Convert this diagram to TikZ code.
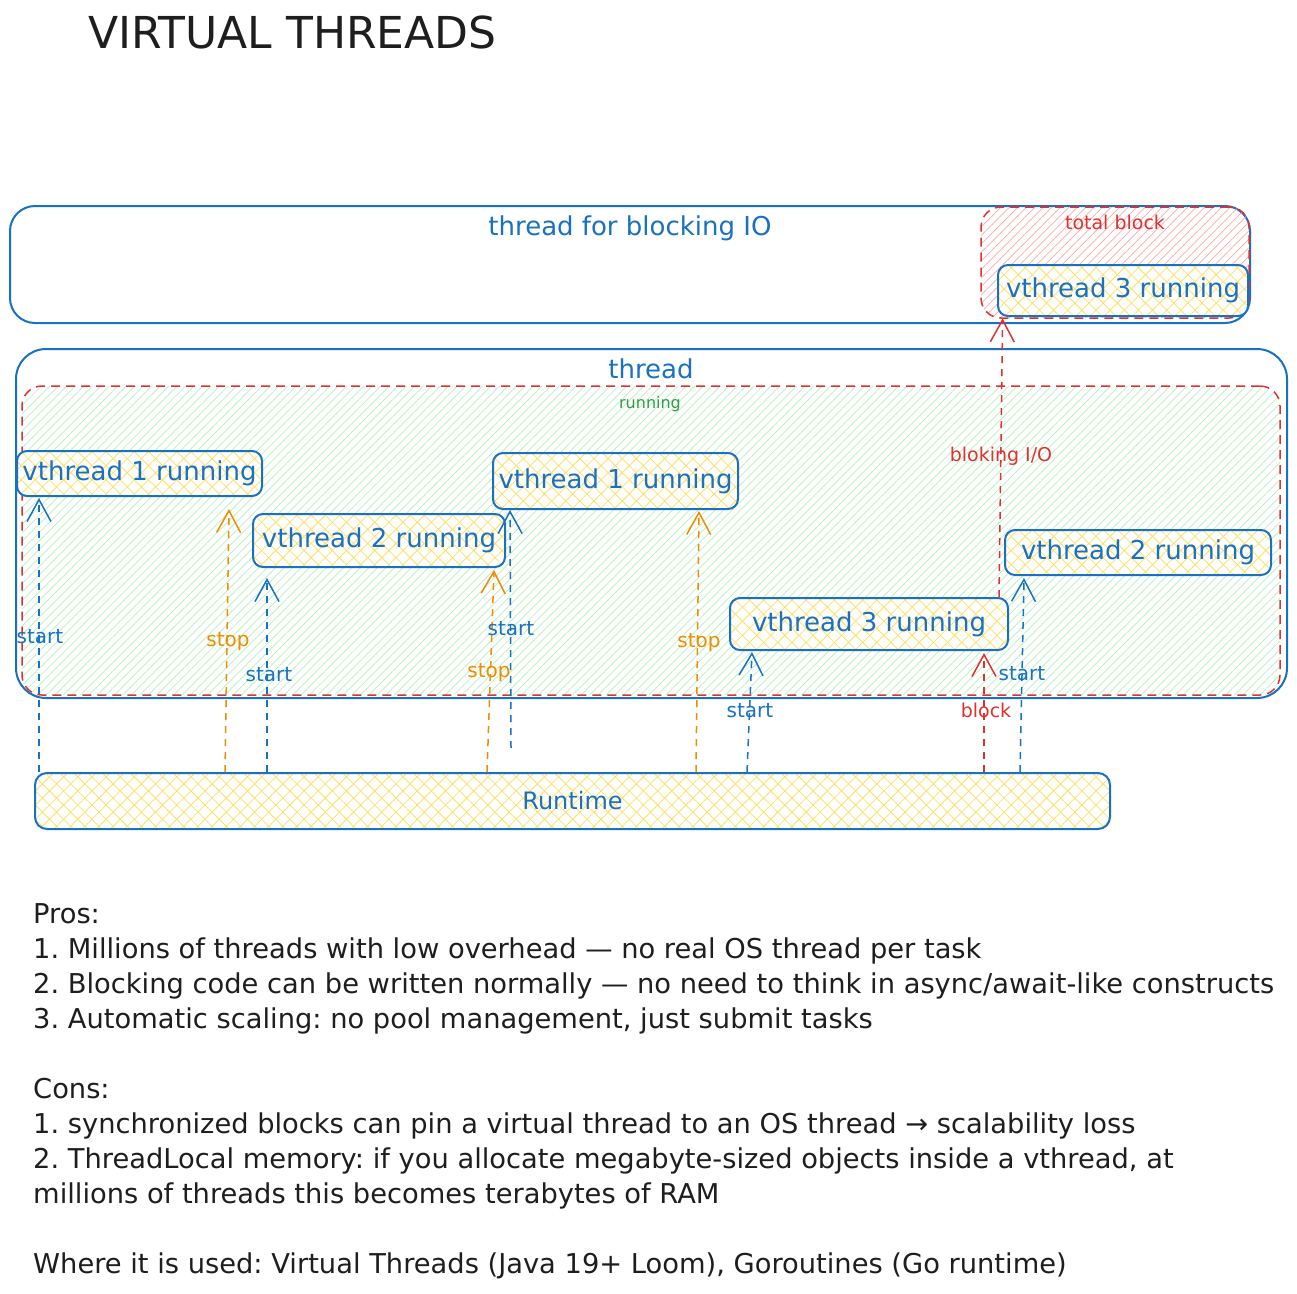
\documentclass[tikz,border=0pt]{standalone}
\usepackage{fontspec}
\setmainfont{DejaVu Sans}
\usetikzlibrary{arrows.meta,patterns.meta}
\definecolor{cblue}{HTML}{1971C2}
\definecolor{cred}{HTML}{E03131}
\definecolor{corange}{HTML}{F08C00}
\definecolor{cgreen}{HTML}{2F9E44}
\definecolor{hgreen}{HTML}{B2F2BB}
\definecolor{hred}{HTML}{FFA8A8}
\definecolor{hyellow}{HTML}{FFE066}
\definecolor{ink}{HTML}{1E1E1E}
\frenchspacing
\begin{document}
\begin{tikzpicture}[x=1pt,y=-1pt,
  container/.style={draw=cblue, line width=2pt, rounded corners=25pt, inner sep=0pt},
  zone/.style={draw=cred, dash pattern=on 9pt off 6pt, line width=1.5pt, rounded corners=20pt, inner sep=0pt},
  greenzone/.style={zone, pattern={Lines[angle=45,distance=6pt,line width=0.7pt]}, pattern color=hgreen},
  redzone/.style={zone, pattern={Lines[angle=45,distance=6pt,line width=0.7pt]}, pattern color=hred},
  vbox/.style={draw=cblue, line width=2pt, rounded corners=10pt, inner sep=0pt,
    preaction={fill=white}, pattern={Hatch[angle=45,distance=10pt,line width=0.8pt]},
    pattern color=hyellow, text=cblue, font=\fontsize{26}{30}\selectfont},
  arr/.style={line width=1.5pt, dash pattern=on 7pt off 6pt, -{Straight Barb[length=22pt,width=24pt,line width=1.5pt]}},
  lab/.style={inner sep=0pt, anchor=base, font=\fontsize{20}{24}\selectfont},
  title/.style={inner sep=0pt, anchor=base, text=cblue},
  body/.style={inner sep=0pt, anchor=base west, text=ink, font=\fontsize{27.3}{33}\selectfont}
]
\fill[white] (0,0) rectangle (1297,1293);
\useasboundingbox (0,0) rectangle (1297,1293);

% title
\node[inner sep=0pt, anchor=base west, text=ink, font=\fontsize{44}{50}\selectfont] (ttl) at (88,48) {VIRTUAL THREADS};

% thread for blocking IO
\node[container, minimum width=1240pt, minimum height=117pt] (tb) at (630,264.5) {};
\node[title, font=\fontsize{26}{30}\selectfont] (tbl) at (630,235) {thread for blocking IO};
\node[redzone, minimum width=268pt, minimum height=111pt] (tblk) at (1115,262.5) {};
\node[lab, text=cred, font=\fontsize{19}{22}\selectfont] (tblkl) at (1115,229) {total block};
\node[vbox, minimum width=250pt, minimum height=51pt] (v3a) at (1123,290.5) {vthread 3 running};

% thread
\node[container, rounded corners=30pt, minimum width=1271pt, minimum height=349pt] (th) at (651.5,523.5) {};
\node[title, font=\fontsize{26}{30}\selectfont] (thl) at (651,378) {thread};
\node[greenzone, minimum width=1258pt, minimum height=309pt] (run) at (651,540.5) {};
\node[lab, text=cgreen, font=\fontsize{16}{20}\selectfont] (runl) at (650,408) {running};

% vthread boxes
\node[vbox, minimum width=245pt, minimum height=45pt] (v1a) at (139.5,473.5) {vthread 1 running};
\node[vbox, minimum width=252pt, minimum height=53pt] (v2a) at (379,540.5) {vthread 2 running};
\node[vbox, minimum width=245pt, minimum height=56pt] (v1b) at (615.5,481) {vthread 1 running};
\node[vbox, minimum width=278pt, minimum height=52pt] (v3b) at (869,624) {vthread 3 running};
\node[vbox, minimum width=266pt, minimum height=45pt] (v2b) at (1138,552.5) {vthread 2 running};

% runtime
\node[vbox, rounded corners=12pt, minimum width=1075pt, minimum height=56pt, font=\fontsize{24}{28}\selectfont] (rt) at (572.5,801) {Runtime};

% arrows
\draw[arr, cblue] ([xshift=5pt]rt.north west) -- ([xshift=23pt,yshift=-1pt]v1a.south west);
\draw[arr, corange] ([xshift=191pt]rt.north west) -- ([xshift=213pt,yshift=-12pt]v1a.south west);
\draw[arr, cblue] ([xshift=233pt]rt.north west) -- ([xshift=15pt,yshift=-10pt]v2a.south west);
\draw[arr, corange] ([xshift=453pt]rt.north west) -- ([xshift=242pt,yshift=-2pt]v2a.south west);
\coordinate (a5) at (511,748);
\draw[arr, cblue] (a5) -- ([xshift=18pt]v1b.south west);
\draw[arr, corange] ([xshift=662pt]rt.north west) -- ([xshift=207pt,yshift=-1pt]v1b.south west);
\draw[arr, cblue] ([xshift=713pt]rt.north west) -- ([xshift=23pt,yshift=-1pt]v3b.south west);
\draw[arr, cred] ([xshift=950pt]rt.north west) -- ([xshift=255pt,yshift=-2pt]v3b.south west);
\draw[arr, cblue] ([xshift=986pt]rt.north west) -- ([xshift=20pt,yshift=-2pt]v2b.south west);
\draw[arr, cred] ([xshift=270pt]v3b.north west) -- ([xshift=5pt,yshift=-2pt]v3a.south west);

% arrow labels
\node[lab, text=cblue] (l1) at (40,643) {start};
\node[lab, text=corange] (l2) at (228,646) {stop};
\node[lab, text=cblue] (l3) at (269,681) {start};
\node[lab, text=corange] (l4) at (489,677) {stop};
\node[lab, text=cblue] (l5) at (511,635) {start};
\node[lab, text=corange] (l6) at (699,647) {stop};
\node[lab, text=cblue] (l7) at (750,717) {start};
\node[lab, text=cred, font=\fontsize{19}{22}\selectfont] (l8) at (986,717) {block};
\node[lab, text=cblue] (l9) at (1022,680) {start};
\node[lab, text=cred, font=\fontsize{19}{22}\selectfont] (l10) at (1001,461) {bloking I/O};

% notes
\node[body] (p0) at (33,923) {Pros:};
\node[body] (p1) at (33,958) {1. Millions of threads with low overhead — no real OS thread per task};
\node[body] (p2) at (33,993) {2. Blocking code can be written normally — no need to think in async/await-like constructs};
\node[body] (p3) at (33,1028) {3. Automatic scaling: no pool management, just submit tasks};
\node[body] (c0) at (33,1098) {Cons:};
\node[body] (c1) at (33,1133) {1. synchronized blocks can pin a virtual thread to an OS thread → scalability loss};
\node[body] (c2) at (33,1168) {2. ThreadLocal memory: if you allocate megabyte-sized objects inside a vthread, at};
\node[body] (c3) at (33,1203) {millions of threads this becomes terabytes of RAM};
\node[body] (w0) at (33,1273) {Where it is used: Virtual Threads (Java 19+ Loom), Goroutines (Go runtime)};
\end{tikzpicture}
\end{document}
